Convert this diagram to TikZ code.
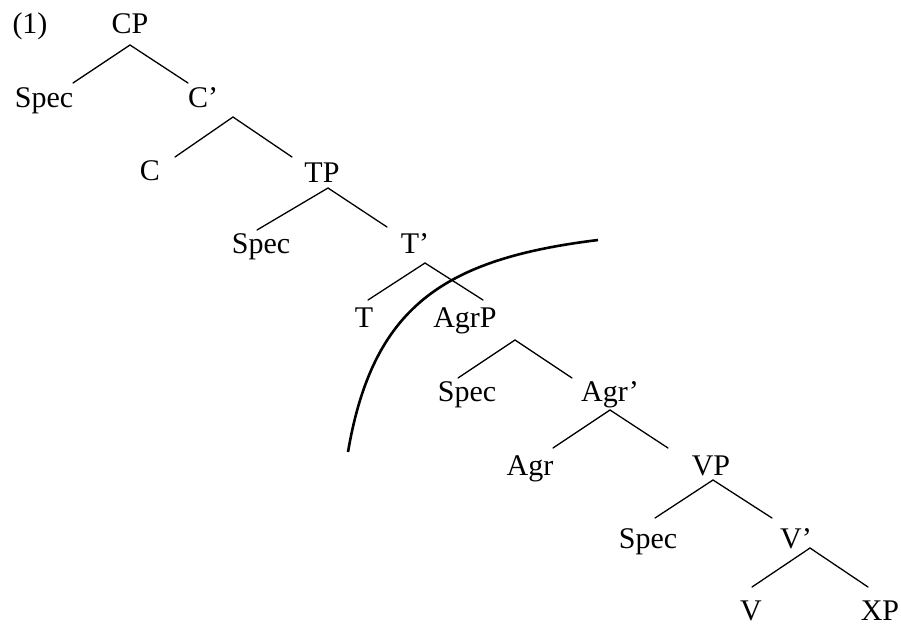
\documentclass[tikz,border=0pt]{standalone}
\usepackage{fontspec}
\setmainfont{Liberation Serif}
\begin{document}
\begin{tikzpicture}[x=1pt,y=-1pt,
  lbl/.style={anchor=base,inner sep=0pt,font=\fontsize{30}{36}\selectfont},
  branch/.style={line width=1.3pt,line cap=round},
  bracket/.style={line width=2.6pt}]
\useasboundingbox (0,0) rectangle (901,625);
% labels
\node[lbl] (ex) at (30,33) {(1)};
\node[lbl] (CP) at (130,33) {CP};
\node[lbl] (SpecC) at (44,107) {Spec};
\node[lbl] (Cbar) at (203,107) {C’};
\node[lbl] (C) at (150,180) {C};
\node[lbl] (TP) at (322,182) {TP};
\node[lbl] (SpecT) at (261,253) {Spec};
\node[lbl] (Tbar) at (415,253) {T’};
\node[lbl] (T) at (364,327) {T};
\node[lbl] (AgrP) at (465,327) {AgrP};
\node[lbl] (SpecA) at (467,401) {Spec};
\node[lbl] (Agrbar) at (610,401) {Agr’};
\node[lbl] (Agr) at (530,475) {Agr};
\node[lbl] (VP) at (711,475) {VP};
\node[lbl] (SpecV) at (648,548) {Spec};
\node[lbl] (Vbar) at (796,548) {V’};
\node[lbl] (V) at (751,620) {V};
\node[lbl] (XP) at (880,620) {XP};
% branch points
\coordinate (cpA) at (130,45);  \coordinate (cpL) at (73,83);   \coordinate (cpR) at (188,83);
\coordinate (cbA) at (233,117); \coordinate (cbL) at (175,157); \coordinate (cbR) at (292,157);
\coordinate (tpA) at (328,188); \coordinate (tpL) at (257,230); \coordinate (tpR) at (387,227);
\coordinate (tbA) at (425,263); \coordinate (tbL) at (368,300); \coordinate (tbR) at (483,300);
\coordinate (apA) at (515,340); \coordinate (apL) at (458,378); \coordinate (apR) at (572,378);
\coordinate (abA) at (610,410); \coordinate (abL) at (553,448); \coordinate (abR) at (668,448);
\coordinate (vpA) at (713,480); \coordinate (vpL) at (655,518); \coordinate (vpR) at (772,518);
\coordinate (vbA) at (810,548); \coordinate (vbL) at (752,587); \coordinate (vbR) at (868,587);
\draw[branch] (cpL) -- (cpA) -- (cpR);
\draw[branch] (cbL) -- (cbA) -- (cbR);
\draw[branch] (tpL) -- (tpA) -- (tpR);
\draw[branch] (tbL) -- (tbA) -- (tbR);
\draw[branch] (apL) -- (apA) -- (apR);
\draw[branch] (abL) -- (abA) -- (abR);
\draw[branch] (vpL) -- (vpA) -- (vpR);
\draw[branch] (vbL) -- (vbA) -- (vbR);
% phase boundary arc
\coordinate (arcS) at (598,240);
\coordinate (arcE) at (348,452);
\draw[bracket] (arcS) .. controls (443,259) and (372.7,307) .. (arcE);
\end{tikzpicture}
\end{document}
